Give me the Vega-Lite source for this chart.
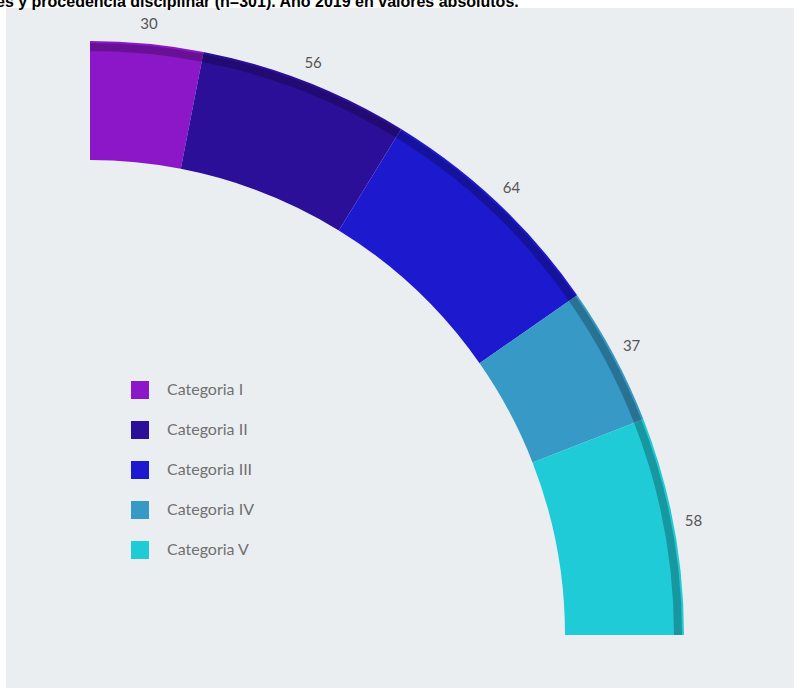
{
  "$schema": "https://vega.github.io/schema/vega-lite/v6.json",
  "width": 788,
  "height": 680,
  "autosize": {"type": "none"},
  "padding": {"left": 6, "top": 8, "right": 0, "bottom": 0},
  "background": "#ffffff",
  "view": {"fill": "#EBEEF1", "stroke": null},
  "title": {
    "text": "es y procedencia disciplinar (n=301). Año 2019 en valores absolutos.",
    "anchor": "start",
    "frame": "group",
    "offset": -18,
    "baseline": "bottom",
    "fontSize": 16,
    "font": "Liberation Sans",
    "fontWeight": "bold",
    "color": "#000000",
    "dx": -10
  },
  "data": {
    "values": [
      {"categoria": "Categoria I", "valor": 30},
      {"categoria": "Categoria II", "valor": 56},
      {"categoria": "Categoria III", "valor": 64},
      {"categoria": "Categoria IV", "valor": 37},
      {"categoria": "Categoria V", "valor": 58}
    ]
  },
  "encoding": {
    "theta": {"field": "valor", "type": "quantitative", "stack": true, "scale": {"range": [0, 1.5708]}},
    "order": {"field": "categoria", "type": "ordinal", "sort": "ascending"}
  },
  "layer": [
    {
      "mark": {"type": "arc", "x": 84, "y": 627, "innerRadius": 475, "outerRadius": 594},
      "encoding": {
        "color": {
          "field": "categoria",
          "type": "nominal",
          "scale": {
            "domain": ["Categoria I", "Categoria II", "Categoria III", "Categoria IV", "Categoria V"],
            "range": ["#8B17C9", "#2C0F99", "#1D19CF", "#3699C6", "#1FCBD6"]
          },
          "legend": {
            "orient": "none",
            "legendX": 125,
            "legendY": 373,
            "title": null,
            "symbolType": "square",
            "symbolSize": 324,
            "symbolStrokeWidth": 0,
            "labelFontSize": 16,
            "labelFont": "Lato",
            "labelColor": "#707070",
            "rowPadding": 22,
            "labelOffset": 18,
            "padding": 0
          }
        }
      }
    },
    {
      "mark": {"type": "arc", "x": 84, "y": 627, "innerRadius": 584, "outerRadius": 592, "fill": "#000000", "fillOpacity": 0.25},
      "encoding": {"detail": {"field": "categoria", "type": "nominal"}}
    },
    {
      "mark": {"type": "text", "x": 84, "y": 627, "radius": 614, "font": "Lato", "fontSize": 15, "color": "#555555"},
      "encoding": {
        "text": {"field": "valor", "type": "quantitative"},
        "detail": {"field": "categoria", "type": "nominal"}
      }
    }
  ]
}
